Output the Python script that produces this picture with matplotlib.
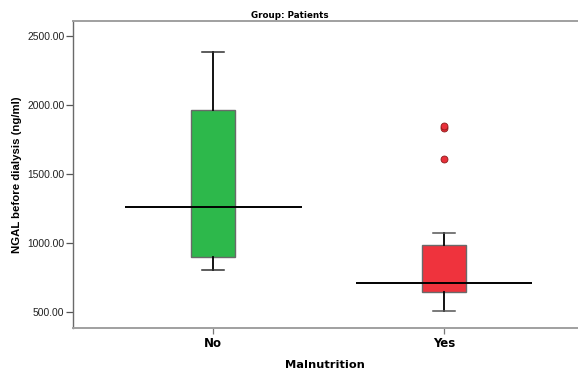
import matplotlib
matplotlib.use("Agg")
import matplotlib.pyplot as plt

categories = ["No", "Yes"]
whisker_low = [806, 509]
q1 = [898, 649]
medians = [1265, 714]
q3 = [1964, 987]
whisker_high = [2382, 1076]
outliers = [[], [1838, 1850, 1607]]
box_colors = ["#2db84b", "#ef333d"]
yticks = [500, 1000, 1500, 2000, 2500]

fig = plt.figure(figsize=(5.78, 3.69), dpi=100)
ax = fig.add_axes([0.1258, 0.1119, 0.8742, 0.832])

positions = [1, 2]
stats = []
for i, c in enumerate(categories):
    stats.append(dict(label=c, whislo=whisker_low[i], q1=q1[i], med=medians[i],
                      q3=q3[i], whishi=whisker_high[i], fliers=outliers[i]))

bp = ax.bxp(stats, positions=positions, widths=0.19, patch_artist=True,
            showfliers=True,
            boxprops=dict(edgecolor="#6a6a6a", linewidth=1.0),
            whiskerprops=dict(color="black", linewidth=1.3),
            capprops=dict(color="#303030", linewidth=1.1),
            medianprops=dict(linewidth=0),
            flierprops=dict(marker="o", markersize=5, markerfacecolor="#e8303a",
                            markeredgecolor="#8a1a1a", markeredgewidth=0.6))
for patch, col in zip(bp["boxes"], box_colors):
    patch.set_facecolor(col)
for cap in bp["caps"][2:]:
    cap.set_color("#555555")

# wide median lines
ax.hlines(medians, [p - 0.383 for p in positions], [p + 0.383 for p in positions],
          colors="black", linewidth=1.4, zorder=5)

ax.set_xlim(0.3906, 2.581)
ax.set_ylim(389, 2611)
ax.set_yticks(yticks)
ax.set_yticklabels([f"{v:.2f}" for v in yticks], fontsize=7.4,
                   family="Liberation Sans", color="#222222")
ax.set_xticks(positions)
ax.set_xticklabels(categories, fontsize=8.5, fontweight="bold", family="DejaVu Sans")

ax.tick_params(axis="y", direction="out", length=5, width=0.9, color="#555555", pad=1)
ax.tick_params(axis="x", direction="out", length=4, width=0.9, color="#777777", pad=3)

for s in ["left"]:
    ax.spines[s].set_color("#6a6a6a")
    ax.spines[s].set_linewidth(1.0)
for s in ["top", "bottom"]:
    ax.spines[s].set_color("#a0a0a0")
    ax.spines[s].set_linewidth(1.4)
ax.spines["right"].set_visible(False)

ax.set_ylabel("NGAL before dialysis (ng/ml)", fontsize=8.2, fontweight="bold",
              family="Liberation Sans")
ax.yaxis.set_label_coords(-0.101, 0.5)
ax.set_xlabel("Malnutrition", fontsize=8.2, fontweight="bold", family="DejaVu Sans",
              labelpad=7)
fig.text(290 / 578, 1 - 15 / 369, "Group: Patients", ha="center", va="center",
         fontsize=6.3, fontweight="bold", family="DejaVu Sans")

fig.savefig("out.png", dpi=100)
